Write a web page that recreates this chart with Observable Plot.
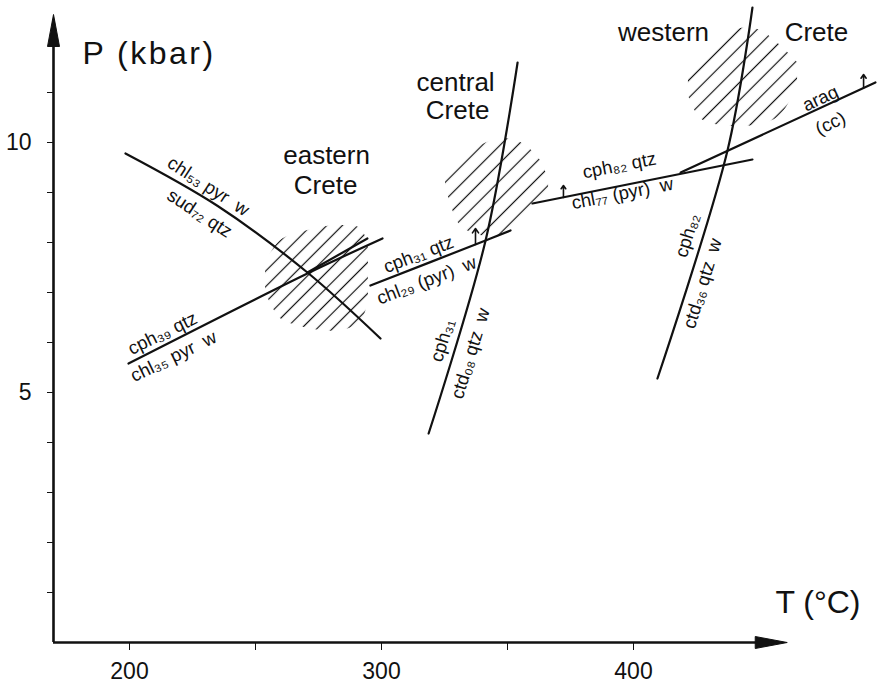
<!DOCTYPE html>
<html><head><meta charset="utf-8">
<script src="https://cdn.jsdelivr.net/npm/d3@7"></script>
<script src="https://cdn.jsdelivr.net/npm/@observablehq/plot@0.6"></script>
<style>body{margin:0;background:#fff} svg{display:block}</style>
</head><body><div id="chart"></div>
<script>
// ---- reaction curves (T in °C, P in kbar) ----
const chl53T = [198.4, 235.0, 270.6, 299.6];
const chl53P = [9.78, 8.73, 7.40, 6.08];
const cph39T = [199.6, 270.6, 300.4];
const cph39P = [5.58, 7.38, 8.08];
const eastWedgeT = [270.6, 294.4];
const eastWedgeP = [7.40, 8.08];
const cph31T = [295.6, 341.3, 351.2];
const cph31P = [7.14, 8.04, 8.24];
const ctd08T = [318.7, 341.3, 354.0];
const ctd08P = [4.18, 8.04, 11.6];
const cph82T = [359.9, 447.2];
const cph82P = [8.78, 9.66];
const aragT = [418.7, 496.0];
const aragP = [9.40, 11.2];
const ctd36T = [409.5, 437.3, 447.2];
const ctd36P = [5.28, 9.84, 12.7];

// ---- hatched P-T fields ----
const eastHatchT  = [254.0, 259.9, 267.9, 275.8, 283.7, 291.7, 294.8];
const eastHatchLo = [7.00, 6.48, 6.32, 6.24, 6.24, 6.40, 6.84];
const eastHatchHi = [7.60, 8.04, 8.20, 8.30, 8.34, 8.28, 7.94];
const centHatchT  = [325.4, 331.3, 339.3, 347.2, 355.2, 363.1, 366.3];
const centHatchLo = [9.14, 8.34, 8.14, 8.12, 8.34, 8.74, 9.08];
const centHatchHi = [9.48, 9.68, 9.94, 10.08, 10.00, 9.64, 9.24];
const westHatchT  = [421.8, 426.6, 434.5, 442.5, 450.4, 458.3, 465.1];
const westHatchLo = [10.94, 10.48, 10.34, 10.32, 10.36, 10.54, 11.14];
const westHatchHi = [11.44, 11.74, 12.04, 12.28, 12.24, 11.94, 11.60];

// ---- small direction arrows ----
const arrowT  = [337.3, 372.2, 491.3];
const arrowP1 = [7.96, 8.90, 11.09];
const arrowP2 = [8.28, 9.14, 11.36];

// ---- curve labels ----
const curveLabels = ["chl₅₃ pyr  w", "sud₇₂ qtz", "cph₃₉ qtz", "chl₃₅ pyr  w",
  "cph₃₁ qtz", "chl₂₉ (pyr)  w", "cph₃₁", "ctd₀₈ qtz  w",
  "cph₈₂ qtz", "chl₇₇ (pyr)  w", "arag", "(cc)", "cph₈₂", "ctd₃₆ qtz  w"];
const curveLabelT = [231.3, 227.8, 213.1, 217.5, 314.7, 317.9, 324.2, 335.3, 394.4, 395.6, 474.2, 478.2, 421.4, 427.4];
const curveLabelP = [9.12, 8.58, 6.18, 5.72, 7.76, 7.24, 6.04, 5.78, 9.54, 8.98, 10.88, 10.38, 8.14, 7.18];
const curveLabelAngle = [33, 33, -26, -26, -21, -21, -73, -73, -11, -11, -25, -25, -73, -73];

// ---- region labels ----
const regionLabels = ["eastern", "Crete", "central", "Crete", "western", "Crete"];
const regionT = [278.2, 277.8, 329.4, 330.2, 411.9, 472.6];
const regionP = [9.74, 9.14, 11.2, 10.64, 12.2, 12.2];

// ---- axes ----
const xTicks = [200, 250, 300, 350, 400];
const yTicks = [1, 2, 3, 4, 5, 6, 7, 8, 9, 10, 11];
const xLabelled = [200, 300, 400];
const yLabelled = [5, 10];
const axisT = [169.84, 461];   // origin T, arrow tip T
const axisP = [0, 12.56];      // origin P, arrow tip P
const titles = ["P (kbar)", "T (°C)"];
const titleT = [181.3, 456.3];
const titleP = [11.78, 0.80];

// build tables
const curves = [];
function addCurve(id, T, P) { T.forEach((t, i) => curves.push({id, T: t, P: P[i]})); }
addCurve("chl53", chl53T, chl53P);
addCurve("cph39", cph39T, cph39P);
addCurve("eastWedge", eastWedgeT, eastWedgeP);
addCurve("cph31", cph31T, cph31P);
addCurve("ctd08", ctd08T, ctd08P);
addCurve("cph82", cph82T, cph82P);
addCurve("arag", aragT, aragP);
addCurve("ctd36", ctd36T, ctd36P);

const hatch = (T, lo, hi) => T.map((t, i) => ({T: t, lo: lo[i], hi: hi[i]}));
const arrows = arrowT.map((t, i) => ({T: t, P1: arrowP1[i], P2: arrowP2[i]}));
const labels = curveLabels.map((s, i) => ({s, T: curveLabelT[i], P: curveLabelP[i], a: curveLabelAngle[i]}));
const regions = regionLabels.map((s, i) => ({s, T: regionT[i], P: regionP[i]}));
const titleRows = titles.map((s, i) => ({s, T: titleT[i], P: titleP[i]}));

const headRight = {draw(ctx) { ctx.moveTo(0, 0); ctx.lineTo(-32, -6); ctx.lineTo(-32, 6); ctx.closePath(); }};
const headUp = {draw(ctx) { ctx.moveTo(0, 0); ctx.lineTo(-6, 32); ctx.lineTo(6, 32); ctx.closePath(); }};

const ink = "#111";
const svg = Plot.plot({
  width: 878, height: 686,
  marginLeft: 53, marginRight: 0, marginTop: 0, marginBottom: 44,
  x: {domain: [169.84, 497.22], ticks: xTicks, tickSize: 8, tickPadding: 12,
      tickFormat: d => xLabelled.includes(d) ? String(d) : "", label: null},
  y: {domain: [0, 12.84], ticks: yTicks, tickSize: 6, tickPadding: 16,
      tickFormat: d => yLabelled.includes(d) ? String(d) : "", label: null},
  style: {fontFamily: "'Liberation Sans', Arial, sans-serif", fontSize: "23px", color: ink, background: "white"},
  marks: [
    Plot.areaY(hatch(eastHatchT, eastHatchLo, eastHatchHi), {x: "T", y1: "lo", y2: "hi", fill: "url(#hatch)", curve: "catmull-rom"}),
    Plot.areaY(hatch(centHatchT, centHatchLo, centHatchHi), {x: "T", y1: "lo", y2: "hi", fill: "url(#hatch2)", curve: "catmull-rom"}),
    Plot.areaY(hatch(westHatchT, westHatchLo, westHatchHi), {x: "T", y1: "lo", y2: "hi", fill: "url(#hatch2)", curve: "catmull-rom"}),
    Plot.line(curves, {x: "T", y: "P", z: "id", stroke: ink, strokeWidth: 2.2, curve: "catmull-rom"}),
    Plot.arrow(arrows, {x1: "T", y1: "P1", x2: "T", y2: "P2", stroke: ink, strokeWidth: 1.6, headLength: 6, headAngle: 70}),
    Plot.ruleY([axisP[0]], {x1: axisT[0], x2: axisT[1] - 4, stroke: ink, strokeWidth: 2.6}),
    Plot.ruleX([axisT[0]], {y1: axisP[0], y2: axisP[1] - 0.1, stroke: ink, strokeWidth: 2.6}),
    Plot.dot([{T: axisT[1], P: axisP[0]}], {x: "T", y: "P", symbol: headRight, fill: ink, stroke: ink, strokeWidth: 1}),
    Plot.dot([{T: axisT[0], P: axisP[1]}], {x: "T", y: "P", symbol: headUp, fill: ink, stroke: ink, strokeWidth: 1}),
    Plot.text(labels, {x: "T", y: "P", text: "s", rotate: "a", fontSize: 18.5, fill: ink}),
    Plot.text(regions, {x: "T", y: "P", text: "s", fontSize: 26, fill: ink}),
    Plot.text(titleRows, {x: "T", y: "P", text: "s", fontSize: 32, textAnchor: "start", fill: ink})
  ]
});

const defs = d3.select(svg).insert("defs", ":first-child");
[["hatch", 11], ["hatch2", 12.5]].forEach(([id, w]) => {
  const pat = defs.append("pattern").attr("id", id).attr("patternUnits", "userSpaceOnUse")
    .attr("width", w).attr("height", w).attr("patternTransform", "rotate(45)");
  pat.append("line").attr("x1", w / 2).attr("y1", 0).attr("x2", w / 2).attr("y2", w)
    .attr("stroke", ink).attr("stroke-width", 1.2);
});
// wider letter spacing for the pressure axis title, as in the original lettering
d3.select(svg).selectAll("text").filter(function() { return this.textContent === titles[0]; })
  .style("letter-spacing", "2.5px");
document.getElementById("chart").appendChild(svg);
</script>
</body></html>
